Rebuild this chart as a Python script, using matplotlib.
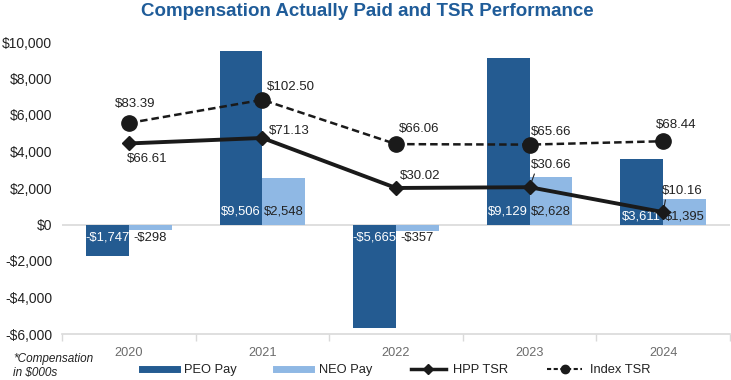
import matplotlib
matplotlib.use("Agg")
import matplotlib.pyplot as plt
from matplotlib.lines import Line2D
import numpy as np

years = ["2020", "2021", "2022", "2023", "2024"]
peo_pay = [-1747, 9506, -5665, 9129, 3611]
neo_pay = [-298, 2548, -357, 2628, 1395]
hpp_tsr = [66.61, 71.13, 30.02, 30.66, 10.16]
index_tsr = [83.39, 102.50, 66.06, 65.66, 68.44]
yticks = [-6000, -4000, -2000, 0, 2000, 4000, 6000, 8000, 10000]

PEO_C = "#245b91"
NEO_C = "#8fb8e4"
LINE_C = "#1a1a1a"
TXT_C = "#222222"

plt.rcParams['font.family'] = ['Liberation Sans', 'DejaVu Sans']

fig = plt.figure(figsize=(7.31, 3.80), dpi=100)
ax = fig.add_axes([62/731, 1-334/380, (730-62)/731, (334-42)/380])
x = np.arange(len(years))
w = 0.32

ax.axhline(0, color="#d9d9d9", lw=1.2, zorder=0)
b1 = ax.bar(x - w/2, peo_pay, w, color=PEO_C, zorder=2)
b2 = ax.bar(x + w/2, neo_pay, w, color=NEO_C, zorder=2)

ax.set_xlim(-0.5, 4.5)
ax.set_ylim(-6000, 10000)
ax.set_yticks(yticks)
ax.set_yticklabels([("-$" if v < 0 else "$") + f"{abs(v):,}" for v in yticks],
                   fontsize=10, color=TXT_C)
ax.tick_params(axis='y', length=0, pad=7)
ax.set_xticks(x)
ax.set_xticklabels(years, fontsize=9.2, color="#6b6b6b")
ax.set_xticks(np.arange(-0.5, 5, 1), minor=True)
ax.tick_params(axis='x', which='major', length=0, pad=9)
ax.tick_params(axis='x', which='minor', length=5, color="#d9d9d9", width=1)
for s in ['left', 'right', 'top']:
    ax.spines[s].set_visible(False)
ax.spines['bottom'].set_color("#d9d9d9")
ax.spines['bottom'].set_linewidth(1.2)

def fmt(v):
    return ("-$" if v < 0 else "$") + f"{abs(v):,}"

for i in range(len(years)):
    off = 8 if i == 4 else 13
    for bars, vals, col in ((b1, peo_pay, "white"), (b2, neo_pay, TXT_C)):
        v = vals[i]
        xc = bars[i].get_x() + bars[i].get_width()/2
        ax.annotate(fmt(v), xy=(xc, 0), xytext=(0, off if v > 0 else -off),
                    textcoords='offset pixels', ha='center', va='center',
                    fontsize=9.4, color=col, zorder=3)

ax2 = ax.twinx()
ax2.set_ylim(-90, 150)
ax2.axis('off')
ax2.plot(x, index_tsr, color=LINE_C, ls=(0, (3, 1.6)), lw=1.8, marker='o', ms=11, zorder=4)
ax2.plot(x, hpp_tsr, color=LINE_C, ls='-', lw=2.8, marker='D', ms=7, zorder=5)

idx_off = [(6, 19), (29, 13), (23, 15), (22, 13), (13, 16)]
hpp_off = [(18, -16), (27, 7), (24, 12), (22, 22), (19, 21)]
for i in range(len(years)):
    ax2.annotate(f"${index_tsr[i]:.2f}", xy=(x[i], index_tsr[i]), xytext=idx_off[i],
                 textcoords='offset pixels', ha='center', va='center', fontsize=9.5, color=TXT_C)
    kw = {}
    if i >= 3:
        kw = dict(arrowprops=dict(arrowstyle='-', color=TXT_C, lw=0.8,
                                  shrinkA=0, shrinkB=4, relpos=(0.1, 0.0)))
    ax2.annotate(f"${hpp_tsr[i]:.2f}", xy=(x[i], hpp_tsr[i]), xytext=hpp_off[i],
                 textcoords='offset pixels', ha='center', va='center', fontsize=9.5,
                 color=TXT_C, **kw)

fig.text(367/731, 1-12/380, "Compensation Actually Paid and TSR Performance",
         ha='center', va='center', fontsize=13.5, fontweight='bold', color="#1f5c99",
         family=['Liberation Sans Narrow', 'Liberation Sans'])

fig.text(13/731, 1-359/380, "*Compensation", ha='left', va='center', fontsize=8.5,
         style='italic', color=TXT_C)
fig.text(13/731, 1-373/380, "in $000s", ha='left', va='center', fontsize=8.5,
         style='italic', color=TXT_C)

handles = [Line2D([], [], color=PEO_C, lw=5),
           Line2D([], [], color=NEO_C, lw=5),
           Line2D([], [], color=LINE_C, lw=2.5, marker='D', ms=5),
           Line2D([], [], color=LINE_C, lw=1.5, ls=(0, (2, 1.2)), marker='o', ms=6)]
fig.legend(handles, ["PEO Pay", "NEO Pay", "HPP TSR", "Index TSR"], ncol=4,
           loc='center', bbox_to_anchor=(396/731, 1-370/380), frameon=False,
           fontsize=9.3, handlelength=2.7, handletextpad=0.6, columnspacing=3.0,
           labelcolor=TXT_C)

fig.savefig("out.png", dpi=100)
